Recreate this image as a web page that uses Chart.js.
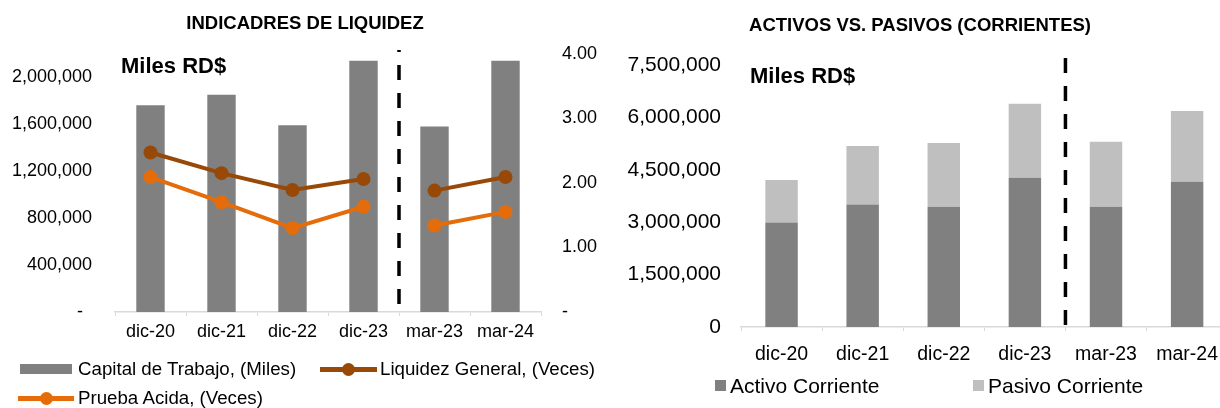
<!DOCTYPE html>
<html>
<head>
<meta charset="utf-8">
<script src="https://cdn.jsdelivr.net/npm/chart.js@4.4.1/dist/chart.umd.min.js"></script>
<style>
    body { margin: 0; width: 1220px; height: 408px; overflow: hidden; background: #fff; position: relative; font-family: "Liberation Sans", Arial, sans-serif; color: #000; }
    .chart-box { position: absolute; top: 0; height: 408px; }
    .unidad { position: absolute; font-weight: bold; font-size: 22px; line-height: 22px; white-space: nowrap; }
    .leg-text { position: absolute; white-space: nowrap; }
    .leg-izq { font-size: 18.7px; line-height: 18.7px; }
    .leg-der { font-size: 21px; line-height: 21px; }
    .marca { position: absolute; }
</style>
</head>
<body>
<div class="chart-box" style="left:0;width:610px"><canvas id="liquidezChart" width="610" height="408"></canvas></div>
<div class="chart-box" style="left:610px;width:620px"><canvas id="activosChart" width="620" height="408"></canvas></div>

<div class="unidad" style="left:121px;top:55px">Miles RD$</div>
<div class="unidad" style="left:750px;top:64.8px">Miles RD$</div>

<div id="legendLiquidez"></div>
<div id="legendActivos"></div>

<script>
const periodos = ["dic-20", "dic-21", "dic-22", "dic-23", "mar-23", "mar-24"];
const capitalTrabajo = [1760000, 1850000, 1590000, 2140000, 1580000, 2140000];
const liquidezGeneral = [2.47, 2.15, 1.89, 2.06, 1.88, 2.09];
const pruebaAcida = [2.09, 1.70, 1.30, 1.63, 1.34, 1.55];
const activoCorriente = [2990000, 3510000, 3440000, 4270000, 3440000, 4160000];
const pasivoCorriente = [1220000, 1670000, 1830000, 2120000, 1860000, 2020000];

const ticksMiles = [0, 400000, 800000, 1200000, 1600000, 2000000];
const ticksVeces = [0, 1, 2, 3, 4];
const ticksActivos = [0, 1500000, 3000000, 4500000, 6000000, 7500000];

// el corte separa los cierres anuales de los trimestrales
const corteIdx = 4;

const GRIS = "#808080";
const GRIS_CLARO = "#bfbfbf";
const CAFE = "#984807";
const NARANJA = "#e46c0a";
const EJE = "#d9d9d9";

const fmtMiles = v => v.toLocaleString("en-US");

const separador = {
    id: "separador",
    afterDatasetsDraw(chart, args, opts) {
        const x = chart.scales.x;
        const px = (x.getPixelForValue(opts.index - 1) + x.getPixelForValue(opts.index)) / 2;
        const ctx = chart.ctx;
        ctx.save();
        ctx.strokeStyle = "#000";
        ctx.lineWidth = 3.5;
        ctx.setLineDash([15, 13]);
        ctx.lineDashOffset = opts.offset || 0;
        ctx.beginPath();
        ctx.moveTo(px, chart.chartArea.top - opts.extra);
        ctx.lineTo(px, chart.chartArea.bottom);
        ctx.stroke();
        ctx.restore();
    }
};

const huecoCorte = color => ctx => ctx.p0DataIndex === corteIdx - 1 ? "rgba(0,0,0,0)" : color;

const tickFont = size => ({ family: "'Liberation Sans', Arial, sans-serif", size: size });

new Chart(document.querySelector("#liquidezChart"), {
    type: "bar",
    data: {
        labels: periodos,
        datasets: [
            {
                label: "Capital de Trabajo, (Miles)",
                data: capitalTrabajo,
                backgroundColor: GRIS,
                yAxisID: "y",
                barPercentage: 0.4,
                categoryPercentage: 1,
                order: 2
            },
            {
                type: "line",
                label: "Liquidez General, (Veces)",
                data: liquidezGeneral,
                borderColor: CAFE,
                backgroundColor: CAFE,
                borderWidth: 4,
                pointRadius: 7,
                pointBorderWidth: 0,
                pointBackgroundColor: CAFE,
                segment: { borderColor: huecoCorte(CAFE) },
                yAxisID: "y1",
                order: 1
            },
            {
                type: "line",
                label: "Prueba Acida, (Veces)",
                data: pruebaAcida,
                borderColor: NARANJA,
                backgroundColor: NARANJA,
                borderWidth: 4,
                pointRadius: 7,
                pointBorderWidth: 0,
                pointBackgroundColor: NARANJA,
                segment: { borderColor: huecoCorte(NARANJA) },
                yAxisID: "y1",
                order: 1
            }
        ]
    },
    options: {
        responsive: false,
        animation: false,
        devicePixelRatio: 1,
        layout: { padding: 0 },
        plugins: {
            legend: { display: false },
            tooltip: { enabled: false },
            title: {
                display: true,
                text: "INDICADRES DE LIQUIDEZ",
                color: "#000",
                font: { family: "'Liberation Sans', Arial, sans-serif", size: 18.5, weight: "bold" },
                padding: { top: 12.4, bottom: 19.1 }
            },
            separador: { index: corteIdx, extra: 3.7, offset: 13 }
        },
        scales: {
            x: {
                grid: { offset: true, drawOnChartArea: false, color: EJE, tickLength: 4 },
                border: { color: EJE, width: 1.5 },
                ticks: { color: "#000", font: tickFont(18), padding: 5, maxRotation: 0 },
                afterFit: s => { s.height = 96; }
            },
            y: {
                position: "left",
                min: 0,
                max: 2200000,
                grid: { display: false, drawTicks: false },
                border: { display: false },
                afterBuildTicks: s => { s.ticks = ticksMiles.map(v => ({ value: v })); },
                ticks: {
                    color: "#000",
                    font: tickFont(18),
                    padding: 23,
                    callback: v => v === 0 ? "-\u2002" : fmtMiles(v)
                },
                afterFit: s => { s.width = 115; }
            },
            y1: {
                position: "right",
                min: 0,
                max: 4,
                grid: { display: false, drawTicks: false },
                border: { display: false },
                afterBuildTicks: s => { s.ticks = ticksVeces.map(v => ({ value: v })); },
                ticks: {
                    color: "#000",
                    font: tickFont(18),
                    padding: 21,
                    callback: v => v === 0 ? "-" : v.toFixed(2)
                },
                afterFit: s => { s.width = 69; }
            }
        }
    },
    plugins: [separador]
});

new Chart(document.querySelector("#activosChart"), {
    type: "bar",
    data: {
        labels: periodos,
        datasets: [
            {
                label: "Activo Corriente",
                data: activoCorriente,
                backgroundColor: GRIS,
                barPercentage: 0.4,
                categoryPercentage: 1
            },
            {
                label: "Pasivo Corriente",
                data: pasivoCorriente,
                backgroundColor: GRIS_CLARO,
                barPercentage: 0.4,
                categoryPercentage: 1
            }
        ]
    },
    options: {
        responsive: false,
        animation: false,
        devicePixelRatio: 1,
        layout: { padding: 0 },
        plugins: {
            legend: { display: false },
            tooltip: { enabled: false },
            title: {
                display: true,
                text: "ACTIVOS VS. PASIVOS (CORRIENTES)",
                color: "#000",
                font: { family: "'Liberation Sans', Arial, sans-serif", size: 18.5, weight: "bold" },
                padding: { top: 14.7, bottom: 28.1 }
            },
            separador: { index: corteIdx, extra: 7, offset: 0 }
        },
        scales: {
            x: {
                stacked: true,
                grid: { offset: true, drawOnChartArea: false, color: EJE, tickLength: 4 },
                border: { color: EJE, width: 1.5 },
                ticks: { color: "#000", font: tickFont(19.5), padding: 12, maxRotation: 0 },
                afterFit: s => { s.height = 81; }
            },
            y: {
                stacked: true,
                min: 0,
                max: 7500000,
                grid: { display: false, drawTicks: false },
                border: { display: false },
                afterBuildTicks: s => { s.ticks = ticksActivos.map(v => ({ value: v })); },
                ticks: {
                    color: "#000",
                    font: tickFont(21),
                    padding: 20,
                    callback: v => fmtMiles(v)
                },
                afterFit: s => { s.width = 131; }
            }
        }
    },
    plugins: [separador]
});

// leyendas: muestra de color + texto
const addMarca = (parent, css) => {
    const el = document.createElement("div");
    el.className = "marca";
    el.style.cssText = css;
    parent.appendChild(el);
};
const addTexto = (parent, cls, text, left, top) => {
    const el = document.createElement("div");
    el.className = "leg-text " + cls;
    el.textContent = text;
    el.style.left = left + "px";
    el.style.top = top + "px";
    parent.appendChild(el);
};
const addLineaPunto = (parent, color, left, width, cy) => {
    addMarca(parent, `left:${left}px;top:${cy - 2.5}px;width:${width}px;height:5px;background:${color}`);
    addMarca(parent, `left:${left + width / 2 - 6.5}px;top:${cy - 6.5}px;width:13px;height:13px;background:${color};border-radius:50%`);
};

const legLiq = document.querySelector("#legendLiquidez");
addMarca(legLiq, `left:20px;top:364px;width:52px;height:10px;background:${GRIS}`);
addTexto(legLiq, "leg-izq", "Capital de Trabajo, (Miles)", 78, 359.9);
addLineaPunto(legLiq, CAFE, 320, 57, 369);
addTexto(legLiq, "leg-izq", "Liquidez General, (Veces)", 380, 359.9);
addLineaPunto(legLiq, NARANJA, 18, 56, 398);
addTexto(legLiq, "leg-izq", "Prueba Acida, (Veces)", 78, 388.9);

const legAct = document.querySelector("#legendActivos");
addMarca(legAct, `left:715px;top:379.5px;width:11px;height:11px;background:${GRIS}`);
addTexto(legAct, "leg-der", "Activo Corriente", 730, 374.7);
addMarca(legAct, `left:973px;top:379.5px;width:11px;height:11px;background:${GRIS_CLARO}`);
addTexto(legAct, "leg-der", "Pasivo Corriente", 988, 374.7);
</script>
</body>
</html>
